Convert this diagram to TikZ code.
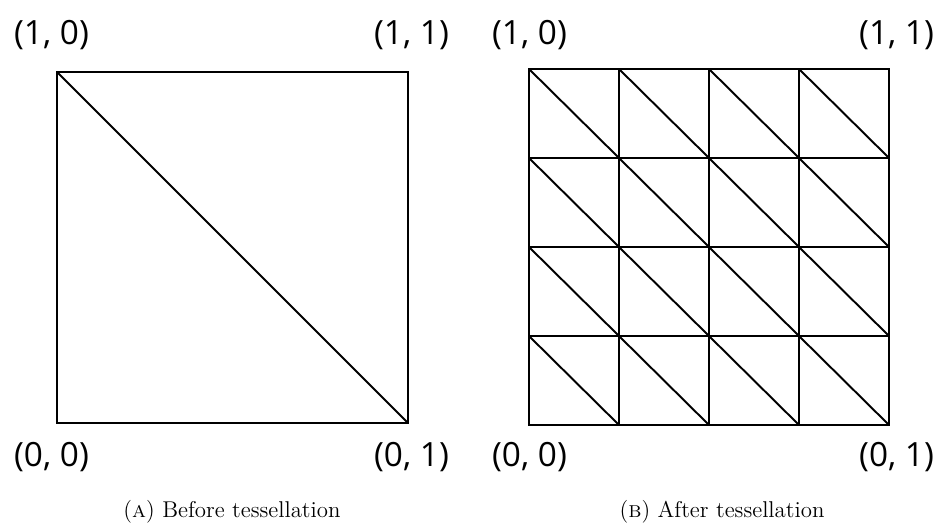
\documentclass[tikz,border=0pt]{standalone}
\usepackage{fontspec}
\newfontfamily\labelfont{Open Sans}
\begin{document}
\begin{tikzpicture}[x=0.02cm,y=0.02cm,line width=1.1pt,
	corner/.style={font=\labelfont\fontsize{19}{22}\selectfont, inner sep=0pt},
	caption/.style={font=\fontsize{13}{15}\selectfont, inner sep=0pt}]
	\useasboundingbox (0,0) rectangle (939,525);
	% before tessellation
	\coordinate (a1) at (57,102);
	\coordinate (a2) at (408,453);
	\draw (a1) rectangle (a2);
	\draw (a1|-a2) -- (a2|-a1);
	\node[corner] (a10) at (51.5,490){(1, 0)};
	\node[corner] (a11) at (411.5,490){(1, 1)};
	\node[corner] (a00) at (51.5,68){(0, 0)};
	\node[corner] (a01) at (411.5,68){(0, 1)};
	\node[caption] (capa) at (232,13){(\textsc{a}) Before tessellation};
	
	% after tessellation
	\coordinate (b1) at (529,100);
	\coordinate (b2) at (889,456);
	\foreach \i in {0,...,3}
	\foreach \j in {0,...,3}{
		\draw (529+90*\i,100+89*\j) rectangle (619+90*\i,189+89*\j);
		\draw (529+90*\i,189+89*\j) -- (619+90*\i,100+89*\j);
	}
	\node[corner] (b10) at (529.5,490){(1, 0)};
	\node[corner] (b11) at (896.5,490){(1, 1)};
	\node[corner] (b00) at (529.5,68){(0, 0)};
	\node[corner] (b01) at (896.5,68){(0, 1)};
	\node[caption] (capb) at (722,13){(\textsc{b}) After tessellation};
\end{tikzpicture}
\end{document}
